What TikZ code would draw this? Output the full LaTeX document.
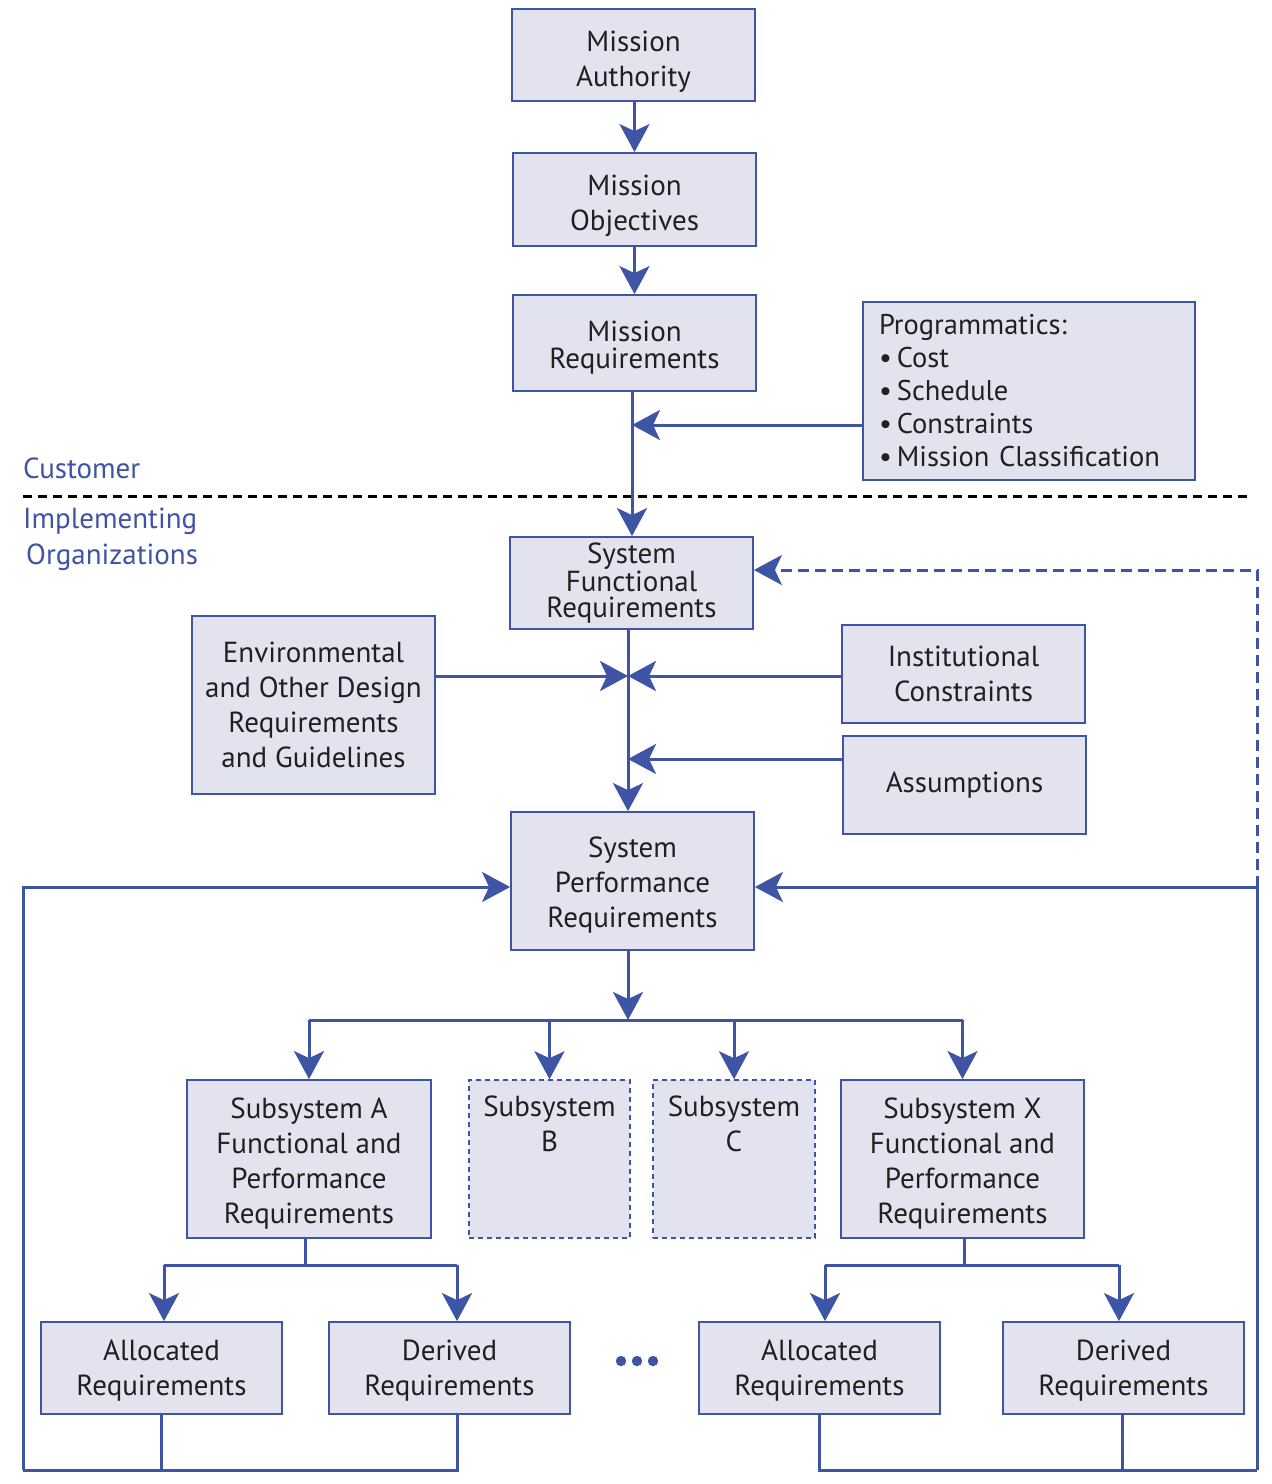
\documentclass[tikz,border=0pt]{standalone}
\usepackage{fontspec}
\setmainfont{PT Sans}
\usetikzlibrary{arrows.meta}
\definecolor{nblue}{HTML}{3E54A4}
\definecolor{nfill}{HTML}{E3E3EF}
\definecolor{ntext}{HTML}{231F20}
\newcommand\txtdrop[1]{\rule{0pt}{#1}}
\begin{document}
\begin{tikzpicture}[x=1pt,y=-1pt,
  box/.style={draw=nblue, fill=nfill, line width=1.8pt, inner sep=0pt, align=center, text=ntext,
    font=\fontsize{29}{35}\selectfont},
  dbox/.style={box, dash pattern=on 5pt off 4pt, line width=1.5pt},
  arr/.style={draw=nblue, line width=3pt, -{Stealth[length=28pt,width=30pt,inset=7pt]}},
  conn/.style={draw=nblue, line width=3pt},
  lab/.style={text=nblue, inner sep=0pt, align=left, font=\fontsize{29}{36}\selectfont},
]
\useasboundingbox (0,0) rectangle (1272,1484);

% nodes
\node[box, minimum width=243pt, minimum height=92pt] (ma) at (633.5,55) {\txtdrop{33pt}Mission\\Authority};
\node[box, minimum width=243pt, minimum height=93pt] (mo) at (634.5,199.5) {\txtdrop{33pt}Mission\\Objectives};
\node[box, minimum width=243pt, minimum height=96pt, font=\fontsize{29}{27}\selectfont] (mr) at (634.5,343) {\txtdrop{29pt}Mission\\Requirements};
\node[box, minimum width=332pt, minimum height=178pt, text width=300pt, align=left, font=\fontsize{28.5}{33}\selectfont] (prog) at (1029,391)
  {Programmatics:\\\textbullet\hspace{5pt}Cost\\\textbullet\hspace{5pt}Schedule\\\textbullet\hspace{5pt}Constraints\\\textbullet\hspace{5pt}Mission Classification};
\node[box, minimum width=243pt, minimum height=92pt, font=\fontsize{29}{26}\selectfont] (sfr) at (631.5,583) {System\\Functional\\Requirements};
\node[box, minimum width=243pt, minimum height=178pt] (env) at (313.5,705) {Environmental\\and Other Design\\Requirements\\and Guidelines};
\node[box, minimum width=243pt, minimum height=98pt] (inst) at (963.5,674) {Institutional\\Constraints};
\node[box, minimum width=243pt, minimum height=98pt] (assm) at (964.5,785) {Assumptions};
\node[box, minimum width=243pt, minimum height=138pt] (spr) at (632.5,881) {\txtdrop{28pt}System\\Performance\\Requirements};

\node[box, minimum width=244pt, minimum height=158pt] (sa) at (309,1159) {\txtdrop{29pt}Subsystem A\\Functional and\\Performance\\Requirements};
\node[dbox, minimum width=161pt, minimum height=158pt] (sb) at (549.5,1159) {Subsystem\\B\\~\\~};
\node[dbox, minimum width=162pt, minimum height=158pt] (sc) at (734,1159) {Subsystem\\C\\~\\~};
\node[box, minimum width=243pt, minimum height=158pt] (sx) at (962.5,1159) {\txtdrop{29pt}Subsystem X\\Functional and\\Performance\\Requirements};

\node[box, minimum width=241pt, minimum height=92pt] (alA) at (161.5,1368) {\txtdrop{26pt}Allocated\\Requirements};
\node[box, minimum width=241pt, minimum height=92pt] (deA) at (449.5,1368) {\txtdrop{26pt}Derived\\Requirements};
\node[box, minimum width=241pt, minimum height=92pt] (alX) at (819.5,1368) {\txtdrop{26pt}Allocated\\Requirements};
\node[box, minimum width=241pt, minimum height=92pt] (deX) at (1123.5,1368) {\txtdrop{26pt}Derived\\Requirements};

% labels
\node[lab, anchor=base west] (cust) at (23,478) {Customer};
\node[lab, anchor=base west] (impl) at (23,564) {Implementing\\\hspace*{3pt}Organizations};

% divider
\draw[black, line width=3pt, dash pattern=on 9pt off 6pt] (23,496) -- (1247,496);

% junction coordinates
\coordinate (j1) at (632,425);
\coordinate (j2) at (628,676);
\coordinate (j3) at (628,759);
\coordinate (hub) at (628,1020);
\coordinate (bl) at (23,1470);
\coordinate (br) at (1257,1470);
\coordinate (aj) at (305,1265);
\coordinate (xj) at (964,1265);

% top chain
\draw[arr] (ma.south) -- (mo.south |- ma.south) -- (mo.north);
\draw[arr] (mo.south) -- (mr.north);
\draw[arr] (j1 |- mr.south) -- (j1 |- sfr.north);
\draw[arr] (prog.west |- j1) -- (j1);

% middle
\draw[conn] (j2 |- sfr.south) -- (j2);
\draw[arr] (j2) -- (j2 |- spr.north);
\draw[arr] (env.east |- j2) -- (j2);
\draw[arr] (inst.west |- j2) -- (j2);
\draw[arr] (assm.west |- j3) -- (j3);

% feedback loops
\draw[conn] (alA.south) |- (bl);
\draw[arr] (bl) |- ([yshift=-6pt]spr.west);
\draw[conn] ([xshift=7.5pt]deA.south) |- (bl);
\draw[conn] (alX.south) |- (br);
\draw[arr] (br) |- ([yshift=-6pt]spr.east);
\draw[conn] ([xshift=-1.5pt]deX.south) |- (br);
\draw[arr, dash pattern=on 11pt off 6pt] (br |- spr.east) ++(0,6) |- ([yshift=13pt]sfr.east);

% distribution to subsystems
\draw[arr] (hub |- spr.south) -- (hub);
\draw[conn] (hub -| sa.north) -- (hub -| sx.north);
\draw[arr] (hub -| sa.north) -- (sa.north);
\draw[arr] (hub -| sb.north) -- (sb.north);
\draw[arr] (hub -| sc.north) -- (sc.north);
\draw[arr] (hub -| sx.north) -- (sx.north);

% subsystem A split
\draw[conn] (aj |- sa.south) -- (aj);
\draw[conn] ([xshift=2.5pt]alA.north |- aj) -- ([xshift=7.5pt]deA.north |- aj);
\draw[arr] ([xshift=2.5pt]alA.north |- aj) -- ([xshift=2.5pt]alA.north);
\draw[arr] ([xshift=7.5pt]deA.north |- aj) -- ([xshift=7.5pt]deA.north);

% subsystem X split
\draw[conn] (xj |- sx.south) -- (xj);
\draw[conn] ([xshift=5.5pt]alX.north |- xj) -- ([xshift=-4.5pt]deX.north |- xj);
\draw[arr] ([xshift=5.5pt]alX.north |- xj) -- ([xshift=5.5pt]alX.north);
\draw[arr] ([xshift=-4.5pt]deX.north |- xj) -- ([xshift=-4.5pt]deX.north);

% ellipsis dots
\fill[nblue] (621,1361) circle (5.2) (637,1361) circle (5.2) (653,1361) circle (5.2);
\end{tikzpicture}
\end{document}
